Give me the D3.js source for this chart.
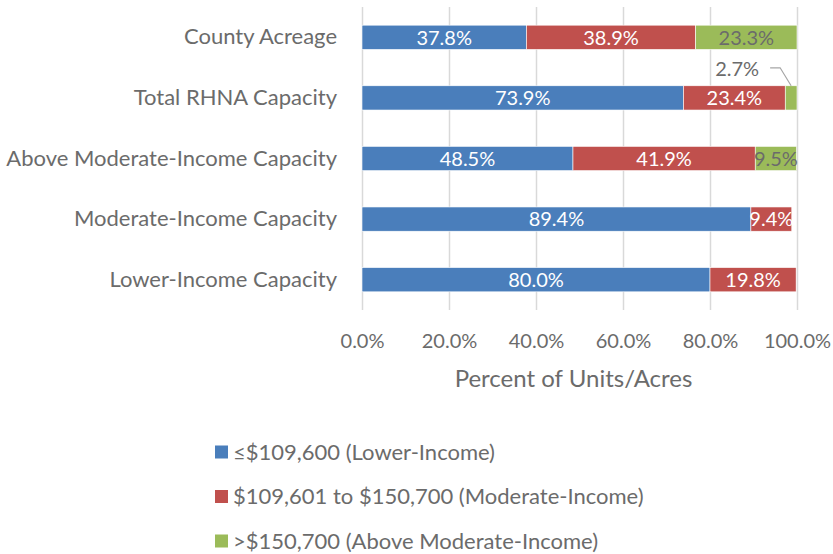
<!DOCTYPE html>
<html>
<head>
<meta charset="utf-8">
<script src="https://cdn.jsdelivr.net/npm/d3@7"></script>
<style>
  html, body { margin: 0; padding: 0; background: #fff; }
  svg { display: block; }
  text { font-family: Lato, "Open Sans", sans-serif; }
</style>
</head>
<body>
<svg id="chart" width="833" height="554"></svg>
<script>
// Share of units / acreage by income band
const categories = [
  "County Acreage",
  "Total RHNA Capacity",
  "Above Moderate-Income Capacity",
  "Moderate-Income Capacity",
  "Lower-Income Capacity"
];
const lowerIncome    = [37.8, 73.9, 48.5, 89.4, 80.0];
const moderateIncome = [38.9, 23.4, 41.9, 9.4, 19.8];
const aboveModerate  = [23.3, 2.7, 9.5, 0, 0];
const seriesKeys  = ["lower", "moderate", "above"];
const seriesNames = [
  "≤$109,600 (Lower-Income)",
  "$109,601 to $150,700 (Moderate-Income)",
  ">$150,700 (Above Moderate-Income)"
];
const xTicks = [0, 20, 40, 60, 80, 100];
const axisTitle = "Percent of Units/Acres";

const colors = { lower: "#4a7ebb", moderate: "#c0504d", above: "#9bbb59" };
const labelColors = { lower: "#ffffff", moderate: "#ffffff", above: "#6b6b6b" };
const textGrey = "#6b6b6b";

const rows = categories.map((c, i) => ({
  category: c,
  lower: lowerIncome[i],
  moderate: moderateIncome[i],
  above: aboveModerate[i]
}));

const svg = d3.select("#chart");
const plot = { left: 362, right: 797, top: 7, bottom: 310 };

const x = d3.scaleLinear().domain([0, 100]).range([plot.left, plot.right]);
const y = d3.scaleBand().domain(categories)
  .range([plot.top, plot.bottom])
  .paddingInner(0.6).paddingOuter(0.3);

// vertical gridlines
svg.append("g")
  .attr("transform", `translate(0,${plot.bottom})`)
  .call(d3.axisBottom(x).tickValues(xTicks).tickSize(-(plot.bottom - plot.top)).tickFormat(""))
  .call(g => g.select(".domain").remove())
  .call(g => g.selectAll(".tick line").attr("stroke", "#d9d9d9").attr("stroke-width", 1.5));

// x tick labels
svg.append("g")
  .attr("transform", `translate(0,${plot.bottom})`)
  .call(d3.axisBottom(x).tickValues(xTicks).tickSize(0).tickPadding(24)
    .tickFormat(d => d3.format(".1f")(d) + "%"))
  .call(g => g.select(".domain").remove())
  .call(g => g.selectAll(".tick text")
    .attr("fill", textGrey).style("font-size", "20px").style("font-family", "Lato, sans-serif"));

// category labels
svg.append("g")
  .attr("transform", `translate(${plot.left},0)`)
  .call(d3.axisLeft(y).tickSize(0).tickPadding(25))
  .call(g => g.select(".domain").remove())
  .call(g => g.selectAll(".tick text")
    .attr("fill", textGrey).style("font-size", "22px").style("font-family", "Lato, sans-serif"));

// axis title
svg.append("text")
  .attr("x", 573.5)
  .attr("y", 387)
  .attr("text-anchor", "middle")
  .attr("fill", textGrey)
  .style("font-size", "24px")
  .text(axisTitle);

// stacked bars
const stacked = d3.stack().keys(seriesKeys)(rows);

const layers = svg.append("g").selectAll("g")
  .data(stacked).join("g")
  .attr("fill", d => colors[d.key]);

layers.selectAll("rect")
  .data(d => d.map(p => ({ p, key: d.key })))
  .join("rect")
  .attr("x", d => x(d.p[0]))
  .attr("y", d => y(d.p.data.category))
  .attr("width", d => Math.max(0, x(d.p[1]) - x(d.p[0])))
  .attr("height", y.bandwidth())
  .attr("stroke", "#ffffff")
  .attr("stroke-width", d => (d.p[1] - d.p[0]) > 0 ? 0.6 : 0);

// data labels (small slice in the Total RHNA row uses a callout)
const labels = [];
stacked.forEach(layer => {
  layer.forEach(p => {
    const v = p[1] - p[0];
    if (v <= 0) return;
    labels.push({ key: layer.key, value: v, start: p[0], end: p[1], category: p.data.category });
  });
});

const isCallout = d => d.value < 5;

svg.append("g").selectAll("text")
  .data(labels.filter(d => !isCallout(d)))
  .join("text")
  .attr("x", d => x((d.start + d.end) / 2))
  .attr("y", d => y(d.category) + y.bandwidth() / 2)
  .attr("dy", "0.36em")
  .attr("text-anchor", "middle")
  .attr("fill", d => labelColors[d.key])
  .style("font-size", "20px")
  .text(d => d3.format(".1f")(d.value) + "%");

const callouts = labels.filter(isCallout);
const co = svg.append("g");
callouts.forEach(d => {
  const cx = x((d.start + d.end) / 2);
  const top = y(d.category);
  co.append("path")
    .attr("d", `M${cx - 21},${top - 18} L${cx - 11},${top - 18} L${cx},${top}`)
    .attr("fill", "none")
    .attr("stroke", "#a6a6a6")
    .attr("stroke-width", 1.2);
  co.append("text")
    .attr("x", cx - 54)
    .attr("y", top - 17)
    .attr("dy", "0.36em")
    .attr("text-anchor", "middle")
    .attr("fill", textGrey)
    .style("font-size", "20px")
    .text(d3.format(".1f")(d.value) + "%");
});

// legend
const legend = svg.append("g").selectAll("g")
  .data(seriesKeys.map((k, i) => ({ key: k, name: seriesNames[i] })))
  .join("g")
  .attr("transform", (d, i) => `translate(215,${452 + i * 44.5})`);

legend.append("rect")
  .attr("x", 0).attr("y", -6.5)
  .attr("width", 13).attr("height", 13)
  .attr("fill", d => colors[d.key]);

legend.append("text")
  .attr("x", 18)
  .attr("dy", "0.36em")
  .attr("fill", textGrey)
  .style("font-size", "22px")
  .text(d => d.name);
</script>
</body>
</html>
